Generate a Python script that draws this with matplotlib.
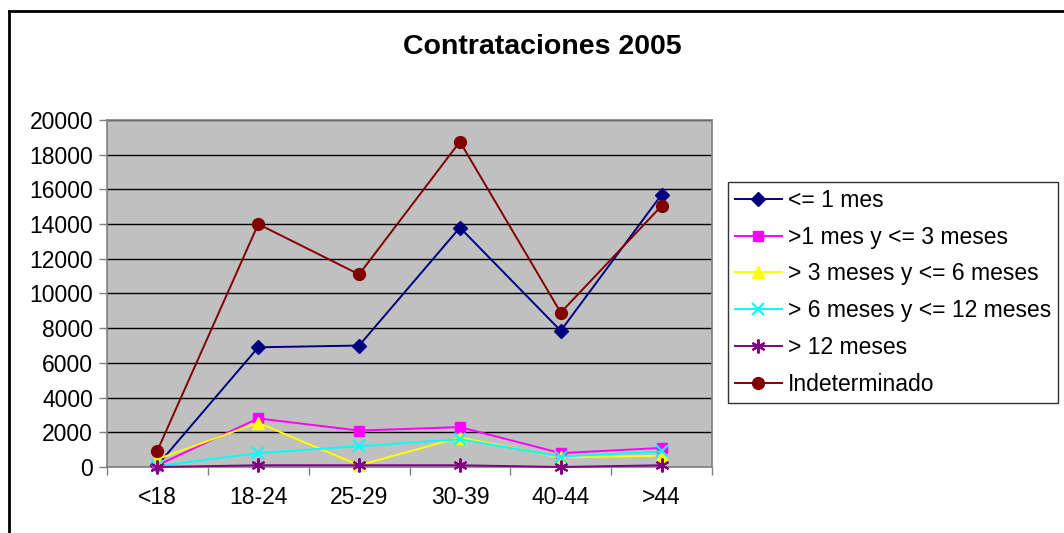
import numpy as np
import matplotlib
matplotlib.use("Agg")
import matplotlib.pyplot as plt
from matplotlib.lines import Line2D

plt.rcParams['font.family'] = ['Liberation Sans', 'DejaVu Sans']

# data
categories = ["<18", "18-24", "25-29", "30-39", "40-44", ">44"]
hasta_1_mes = [100, 6900, 7000, 13800, 7850, 15700]
de_1_a_3 = [100, 2800, 2100, 2300, 800, 1100]
de_3_a_6 = [450, 2550, 100, 1700, 550, 650]
de_6_a_12 = [50, 800, 1200, 1600, 600, 900]
mas_12 = [0, 100, 100, 100, 0, 100]
indeterminado = [950, 14000, 11100, 18750, 8900, 15050]

labels = ["<= 1 mes", ">1 mes y <= 3 meses", "> 3 meses y <= 6 meses",
          "> 6 meses y <= 12 meses", "> 12 meses", "Indeterminado"]
series = [hasta_1_mes, de_1_a_3, de_3_a_6, de_6_a_12, mas_12, indeterminado]
colors = ["#000080", "#ff00ff", "#ffff00", "#00ffff", "#800080", "#800000"]
markers = ["D", "s", "^", "x", (6, 2, 0), "o"]
msizes = [7.5, 7.5, 8.5, 9, 10, 8.5]

fig = plt.figure(figsize=(10.64, 5.33), dpi=100)
ax = fig.add_axes([107 / 1064, 66 / 533, 605 / 1064, 347 / 533])
ax.set_facecolor("#c0c0c0")

x = np.arange(len(categories))
for vals, lab, c, m, ms in zip(series, labels, colors, markers, msizes):
    ax.plot(x, vals, color=c, marker=m, markersize=ms, linewidth=1.4,
            markeredgewidth=1.5 if m in ("x", (6, 2, 0)) else 1,
            markeredgecolor=c, markerfacecolor=c, label=lab, clip_on=False, zorder=3)

ax.set_xlim(-0.5, len(categories) - 0.5)
ax.set_ylim(0, 20000)
ax.set_yticks(np.arange(0, 20001, 2000))
ax.yaxis.grid(True, color="black", linewidth=1)
ax.set_axisbelow(True)
ax.set_xticks(x)
ax.set_xticklabels(categories)
ax.set_xticks(np.arange(-0.5, len(categories)), minor=True)
ax.tick_params(axis="x", which="major", length=0, pad=14, labelsize=16.5)
ax.tick_params(axis="x", which="minor", length=6, width=1, color="#808080")
ax.tick_params(axis="y", length=6, width=1, color="#808080", labelsize=16.5, pad=4)
for s in ax.spines.values():
    s.set_color("#808080")
    s.set_linewidth(1.2)

fig.text(542 / 1064, 1 - 47 / 533, "Contrataciones 2005", ha="center", va="center",
         fontsize=20.5, fontweight="bold")

leg = fig.legend(loc="upper left", bbox_to_anchor=(728 / 1064, 1 - 182 / 533),
                 fontsize=16.5, frameon=True, fancybox=False, edgecolor="black",
                 handlelength=2.05, labelspacing=0.6, borderpad=0.3,
                 handletextpad=0.25, borderaxespad=0)
leg.get_frame().set_linewidth(1)

# outer chart border (top and left visible)
fig.add_artist(Line2D([9 / 1064, 1], [1 - 11 / 533, 1 - 11 / 533], color="black", linewidth=2,
                      transform=fig.transFigure))
fig.add_artist(Line2D([9 / 1064, 9 / 1064], [0, 1 - 11 / 533], color="black", linewidth=2,
                      transform=fig.transFigure))

fig.savefig("out.png", dpi=100)
